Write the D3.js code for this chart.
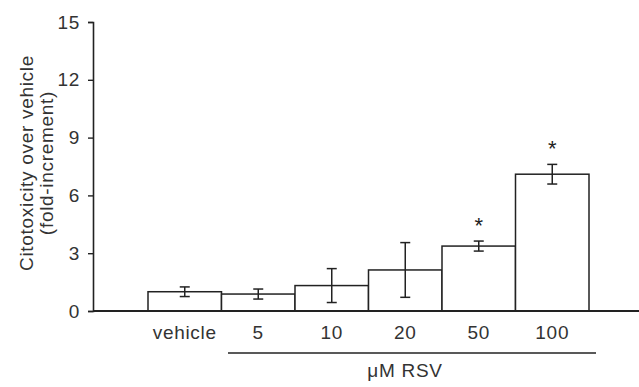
<!DOCTYPE html>
<html>
<head>
<meta charset="utf-8">
<script src="https://cdn.jsdelivr.net/npm/d3@7"></script>
<style>
  body { margin: 0; background: #fff; }
  text { font-family: "Liberation Sans", Arial, sans-serif; fill: #333; letter-spacing: 0.7px; }
</style>
</head>
<body>
<div id="chart"></div>
<script>
// values
var categories = ["vehicle", "5", "10", "20", "50", "100"];
var means = [1.0, 0.88, 1.32, 2.13, 3.37, 7.1];
var errors = [0.25, 0.26, 0.88, 1.42, 0.26, 0.51];
var significant = [false, false, false, false, true, true];
var yTicks = [0, 3, 6, 9, 12, 15];

var W = 639, H = 387;
var fs = "19px";
var svg = d3.select("#chart").append("svg")
  .attr("width", W).attr("height", H);

var x = d3.scaleBand()
  .domain(categories)
  .range([148, 589])
  .padding(0);

var y = d3.scaleLinear()
  .domain([0, 15])
  .range([311, 22]);

// y axis
var yAxis = svg.append("g")
  .attr("transform", "translate(93,0)")
  .call(d3.axisLeft(y).tickValues(yTicks).tickSize(5).tickPadding(8));
yAxis.select(".domain").attr("stroke", "#222").attr("stroke-width", 1.6);
yAxis.selectAll(".tick line").attr("stroke", "#222").attr("stroke-width", 1.4);
yAxis.selectAll(".tick text").style("font-size", fs).attr("fill", "#333");

// bars
svg.selectAll("rect.bar")
  .data(categories)
  .enter().append("rect")
  .attr("class", "bar")
  .attr("x", function(d) { return x(d); })
  .attr("width", x.bandwidth())
  .attr("y", function(d, i) { return y(means[i]); })
  .attr("height", function(d, i) { return y(0) - y(means[i]); })
  .attr("fill", "#fff")
  .attr("stroke", "#222")
  .attr("stroke-width", 1.5);

// x axis line (no ticks), drawn over bar bottoms
svg.append("line")
  .attr("x1", 93).attr("x2", W)
  .attr("y1", y(0)).attr("y2", y(0))
  .attr("stroke", "#222").attr("stroke-width", 1.8);

// error bars
var eb = svg.selectAll("g.err")
  .data(categories)
  .enter().append("g")
  .attr("class", "err")
  .attr("transform", function(d) { return "translate(" + (x(d) + x.bandwidth() / 2) + ",0)"; });
eb.append("line")
  .attr("y1", function(d, i) { return y(means[i] + errors[i]); })
  .attr("y2", function(d, i) { return y(means[i] - errors[i]); })
  .attr("stroke", "#222").attr("stroke-width", 1.5);
eb.append("line").attr("x1", -5).attr("x2", 5)
  .attr("y1", function(d, i) { return y(means[i] + errors[i]); })
  .attr("y2", function(d, i) { return y(means[i] + errors[i]); })
  .attr("stroke", "#222").attr("stroke-width", 1.5);
eb.append("line").attr("x1", -5).attr("x2", 5)
  .attr("y1", function(d, i) { return y(means[i] - errors[i]); })
  .attr("y2", function(d, i) { return y(means[i] - errors[i]); })
  .attr("stroke", "#222").attr("stroke-width", 1.5);

// asterisks
eb.filter(function(d, i) { return significant[i]; })
  .append("text")
  .attr("text-anchor", "middle")
  .attr("y", function(d) { var i = categories.indexOf(d); return y(means[i] + errors[i]) - 8; })
  .style("font-size", "22px")
  .style("letter-spacing", "0")
  .style("fill", "#222")
  .text("*");

// category labels
svg.selectAll("text.cat")
  .data(categories)
  .enter().append("text")
  .attr("class", "cat")
  .attr("text-anchor", "middle")
  .attr("x", function(d) { return x(d) + x.bandwidth() / 2; })
  .attr("y", 339)
  .style("font-size", fs)
  .text(function(d) { return d; });

// bracket line under RSV doses
svg.append("line")
  .attr("x1", 228).attr("x2", 596)
  .attr("y1", 353).attr("y2", 353)
  .attr("stroke", "#222").attr("stroke-width", 1.3);

svg.append("text")
  .attr("text-anchor", "middle")
  .attr("x", 405).attr("y", 377)
  .style("font-size", fs)
  .text("μM RSV");

// y title
var yt = svg.append("text")
  .attr("text-anchor", "middle")
  .attr("transform", "translate(33,163) rotate(-90)")
  .style("font-size", fs);
yt.append("tspan").attr("x", 0).attr("dy", 0).text("Citotoxicity over vehicle");
yt.append("tspan").attr("x", 0).attr("dy", 20).text("(fold-increment)");
</script>
</body>
</html>
